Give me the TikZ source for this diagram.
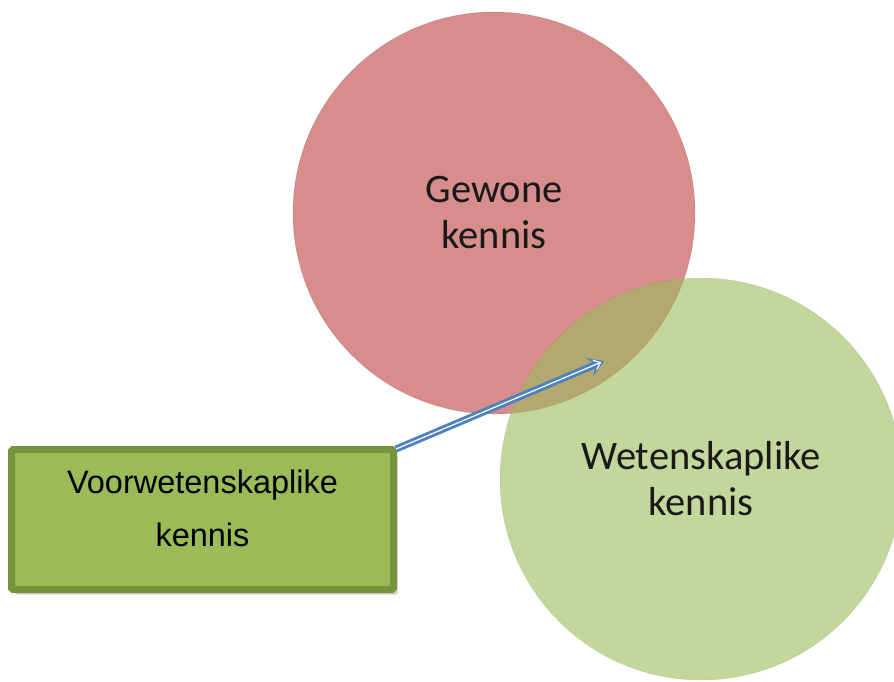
\documentclass[tikz,border=0pt]{standalone}
\usepackage{fontspec}
\setmainfont{Carlito}
\newfontfamily\arialf{Liberation Sans}
\usetikzlibrary{shadows,arrows.meta,calc}
\definecolor{redc}{HTML}{C0504D}
\definecolor{greenc}{HTML}{9BBB59}
\definecolor{greenb}{HTML}{77933C}
\definecolor{bluea}{HTML}{4F81BD}
\tikzset{
  venn/.style={circle, minimum size=402pt, inner sep=0pt, align=center,
    font=\fontsize{40.5}{46}\selectfont, text=black!90},
  boxstyle/.style={draw=greenb, line width=7pt, fill=greenc, minimum width=382pt,
    minimum height=140pt, inner sep=0pt, rounded corners=1.5pt,
    drop shadow={shadow xshift=4pt, shadow yshift=-5pt, opacity=0.35}},
  boxtext/.style={align=center, font=\arialf\fontsize{32.5}{53}\selectfont, text=black}
}
\begin{document}
\begin{tikzpicture}[x=1pt,y=-1pt]
\useasboundingbox (0,0) rectangle (894,681);
\node[venn, fill=redc, fill opacity=0.65, draw=redc!80!black, draw opacity=0.4, text opacity=1] (gewone) at (494,213) {Gewone\\kennis};
\node[venn, fill=greenc, fill opacity=0.6, draw=greenb, draw opacity=0.3, text opacity=1] (weten) at (701,479) {};
\node[venn, text opacity=1] (wetentext) at (701,479) {Wetenskaplike\\kennis};
\node[boxstyle] (voor) at (202.5,519.5) {};
\node[boxtext] (voortext) at (202.5,508) {Voorwetenskaplike\\kennis};
\coordinate (tip) at (604,361);
\coordinate (s) at ($(voor.north east)+(-1,3)$);
\coordinate (hb) at ($(tip)!16pt!(s)$);
\coordinate (hn) at ($(tip)!9pt!(s)$);
\coordinate (h1) at ($(hb)!10pt!90:(tip)$);
\coordinate (h2) at ($(hb)!10pt!-90:(tip)$);
\draw[bluea, line width=7pt] (s) -- (hn);
\fill[bluea] (tip) -- (h1) -- (hn) -- (h2) -- cycle;
\draw[white, line width=1.2pt, -{Straight Barb[length=6pt,width=10pt]}] (s) -- ($(tip)!3pt!(s)$);
\end{tikzpicture}
\end{document}
